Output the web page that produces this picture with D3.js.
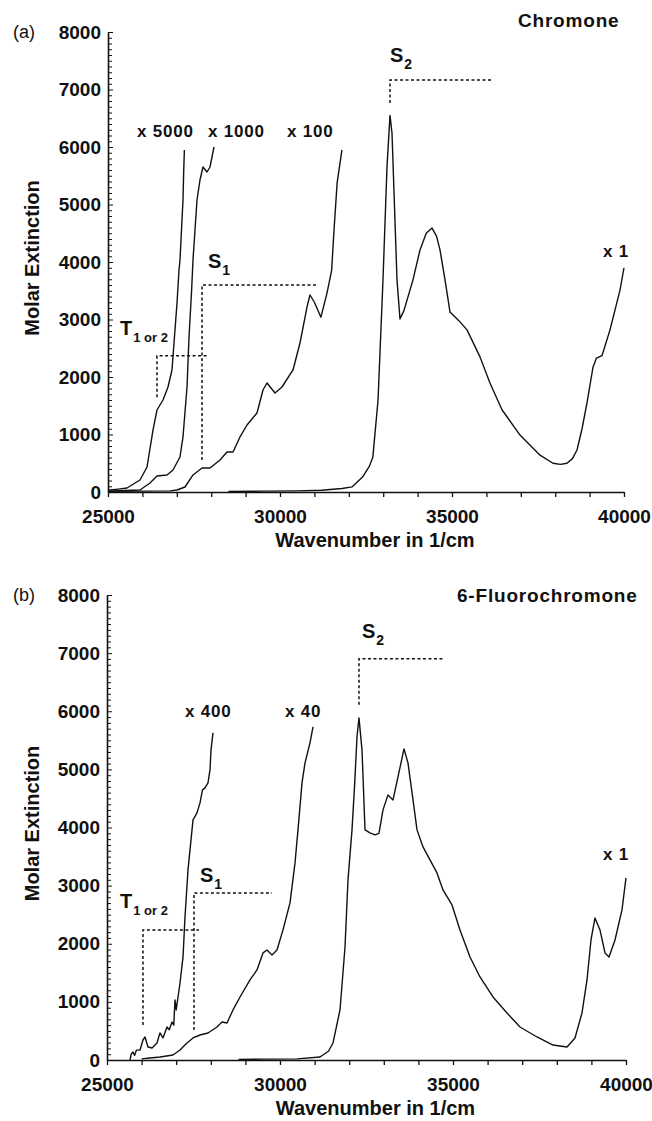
<!DOCTYPE html>
<html>
<head>
<meta charset="utf-8">
<script src="https://cdn.jsdelivr.net/npm/d3@7"></script>
<style>
body { margin: 0; background: #fff; }
svg text { font-family: "Liberation Sans", Arial, sans-serif; fill: #111; }
</style>
</head>
<body>
<div id="chart"></div>
<script>

// ---- data: [wavenumber (1/cm), molar extinction] ----

// (a) Chromone
const chromoneX1 = [[28500,10],[29500,15],[30500,20],[31200,30],[31800,60],[32100,90],[32400,260],[32600,450],
	[32700,610],[32850,1600],[32994,3690],[33110,5650],[33198,6550],[33256,6240],[33401,3690],[33488,3010],
	[33600,3150],[33866,3690],[34070,4210],[34250,4500],[34419,4590],[34550,4450],[34651,4210],[34797,3690],
	[34942,3130],[35200,2980],[35436,2820],[35814,2350],[36100,1900],[36453,1430],[36977,990],[37558,640],
	[37936,500],[38150,480],[38343,500],[38500,580],[38634,730],[38780,1100],[38924,1550],[39099,2170],
	[39200,2330],[39360,2370],[39593,2820],[39884,3510],[40000,3900]];
const chromoneX100 = [[25000,10],[26000,15],[26800,20],[27006,35],[27238,87],[27471,296],[27733,417],[27965,417],
	[28256,557],[28459,696],[28634,696],[28837,957],[29041,1165],[29331,1374],[29506,1774],[29622,1896],
	[29855,1722],[30058,1826],[30378,2122],[30581,2591],[30785,3217],[30872,3426],[31000,3300],[31190,3040],
	[31366,3460],[31500,3850],[31570,4550],[31660,5370],[31800,5950]];
const chromoneX1000 = [[25000,15],[25500,25],[25930,35],[26221,157],[26424,278],[26715,296],[26890,383],
	[27093,609],[27180,957],[27297,1826],[27355,2696],[27430,3500],[27471,4035],[27587,5078],[27674,5426],
	[27761,5652],[27878,5565],[27965,5652],[28081,6000]];
const chromoneX5000 = [[25000,30],[25300,50],[25552,70],[25930,209],[26134,435],[26308,1078],[26424,1426],
	[26599,1600],[26744,1826],[26860,2122],[26919,2591],[27006,3287],[27064,3861],[27093,4035],[27180,5078],
	[27200,5565],[27220,5948]];

// (b) 6-Fluorochromone
const fluoroX1 = [[28800,10],[29500,15],[30500,20],[31156,52],[31400,150],[31532,293],[31734,861],[31879,1945],
	[31965,3098],[32081,3959],[32160,4768],[32225,5559],[32283,5886],[32370,5336],[32457,3959],[32601,3907],
	[32746,3873],[32860,3900],[32977,4303],[33121,4561],[33266,4475],[33410,4871],[33584,5353],[33699,5112],
	[33844,4475],[33960,3959],[34133,3666],[34335,3442],[34537,3219],[34711,2926],[34971,2668],[35202,2238],
	[35491,1773],[35780,1429],[36156,1084],[36561,809],[36936,568],[37428,396],[37890,258],[38295,224],
	[38526,379],[38728,809],[38873,1377],[38988,2065],[39104,2444],[39248,2238],[39393,1842],[39509,1773],
	[39682,2065],[39884,2582],[40000,3133]];
const fluoroX40 = [[26000,20],[26243,34],[26532,52],[26908,86],[27110,172],[27312,293],[27486,379],[27688,430],
	[27919,465],[28179,568],[28324,654],[28468,637],[28642,861],[28844,1084],[29133,1377],[29335,1549],
	[29509,1842],[29624,1893],[29769,1807],[29913,1893],[30087,2238],[30289,2702],[30434,3391],[30520,3959],
	[30636,4768],[30723,5112],[30867,5456],[30954,5731]];
const fluoroX400 = [[25665,0],[25700,100],[25751,138],[25800,80],[25850,170],[25954,172],[26040,344],[26098,396],
	[26185,224],[26301,206],[26445,293],[26530,465],[26618,379],[26734,568],[26800,520],[26879,654],[26930,600],
	[26965,1033],[27000,861],[27110,1325],[27197,1773],[27254,2461],[27341,3270],[27428,3787],[27457,3959],
	[27486,4131],[27601,4251],[27688,4423],[27760,4647],[27832,4682],[27919,4768],[27977,4991],[28006,5336],
	[28064,5628]];

// dashed state markers: vertical at w from v0 to v1, then horizontal to w1; label at (lw, lv)
const chromoneMarks = [
	{label: "T", sub: "1 or 2", w: 26424, v0: 1650, v1: 2370, w1: 27878, lw: 25349, lv: 2730},
	{label: "S", sub: "1", w: 27733, v0: 557, v1: 3600, w1: 31105, lw: 27907, lv: 3896},
	{label: "S", sub: "2", w: 33198, v0: 6765, v1: 7165, w1: 36192, lw: 33198, lv: 7478}
];
const fluoroMarks = [
	{label: "T", sub: "1 or 2", w: 26040, v0: 602, v1: 2238, w1: 27659, lw: 25376, lv: 2616},
	{label: "S", sub: "1", w: 27514, v0: 516, v1: 2874, w1: 29769, lw: 27688, lv: 3064},
	{label: "S", sub: "2", w: 32283, v0: 6110, v1: 6902, w1: 34711, lw: 32370, lv: 7263}
];

// scale factor labels [text, wavenumber, extinction]
const chromoneFactors = [["x 5000", 25843, 6174], ["x 1000", 27907, 6174], ["x 100", 30203, 6174], ["x 1", 39390, 4087]];
const fluoroFactors = [["x 400", 27254, 5904], ["x 40", 30145, 5904], ["x 1", 39335, 3442]];

const xTicks = d3.range(25000, 40001, 1000);
const xLabels = [25000, 30000, 35000, 40000];
const yTicks = d3.range(0, 8001, 100);
const yLabels = d3.range(0, 8001, 1000);

// ---- drawing ----
const svg = d3.select("#chart").append("svg")
	.attr("width", 652)
	.attr("height", 1121);

function drawPanel(p) {
	const x = d3.scaleLinear().domain([25000, 40000]).range([p.left, p.right]);
	const y = d3.scaleLinear().domain([0, 8000]).range([p.bottom, p.top]);
	const g = svg.append("g");

	// x axis
	const xAxis = d3.axisBottom(x)
		.tickValues(xTicks)
		.tickSizeInner(5)
		.tickSizeOuter(0)
		.tickPadding(13)
		.tickFormat(d => xLabels.includes(d) ? d : "");
	const gx = g.append("g")
		.attr("transform", "translate(0," + p.bottom + ")")
		.call(xAxis);
	gx.select(".domain").attr("stroke", "#111").attr("stroke-width", 1.6);
	gx.selectAll(".tick line").attr("stroke", "#111").attr("stroke-width", 1.3);
	gx.selectAll("text").attr("font-size", 19).attr("font-weight", "bold").attr("fill", "#111");

	// y axis: small inward ticks every 100, labels every 1000
	const yAxis = d3.axisLeft(y)
		.tickValues(yTicks)
		.tickSizeInner(-4)
		.tickSizeOuter(0)
		.tickPadding(7)
		.tickFormat(d => yLabels.includes(d) ? d : "");
	const gy = g.append("g")
		.attr("transform", "translate(" + p.left + ",0)")
		.call(yAxis);
	gy.select(".domain").attr("stroke", "#111").attr("stroke-width", 1.6);
	gy.selectAll(".tick line").attr("stroke", "#111").attr("stroke-width", 1)
		.attr("x2", d => yLabels.includes(d) ? 5 : 4);
	gy.selectAll("text").attr("font-size", 19).attr("font-weight", "bold").attr("fill", "#111");

	// axis titles
	g.append("text")
		.attr("x", (p.left + p.right) / 2 + 9)
		.attr("y", p.bottom + 55)
		.attr("text-anchor", "middle")
		.attr("font-size", 20).attr("font-weight", "bold")
		.text("Wavenumber in 1/cm");
	g.append("text")
		.attr("transform", "translate(39," + ((p.top + p.bottom) / 2 - 4) + ") rotate(-90)")
		.attr("text-anchor", "middle")
		.attr("font-size", 20).attr("font-weight", "bold")
		.text("Molar Extinction");

	// panel letter and compound name
	g.append("text")
		.attr("x", 13).attr("y", p.top + 6)
		.attr("font-size", 18)
		.text(p.letter);
	g.append("text")
		.attr("x", x(p.nameW)).attr("y", y(p.nameV))
		.attr("font-size", 19).attr("font-weight", "bold")
		.attr("letter-spacing", 0.8)
		.text(p.name);

	// dashed markers
	const marks = g.append("g")
		.attr("fill", "none")
		.attr("stroke", "#111")
		.attr("stroke-width", 1.5)
		.attr("stroke-dasharray", "3,2.5");
	p.marks.forEach(m => {
		marks.append("path")
			.attr("d", "M" + x(m.w) + "," + y(m.v0) + "V" + y(m.v1) + "H" + x(m.w1));
		const t = g.append("text")
			.attr("x", x(m.lw)).attr("y", y(m.lv))
			.attr("font-size", 20).attr("font-weight", "bold");
		t.append("tspan").text(m.label);
		t.append("tspan")
			.attr("font-size", m.sub.length > 1 ? 13 : 14)
			.attr("dx", 1)
			.attr("dy", 7)
			.text(m.sub);
	});

	// spectra
	const line = d3.line()
		.x(d => x(d[0]))
		.y(d => y(d[1]));
	p.curves.forEach(c => {
		g.append("path")
			.datum(c)
			.attr("fill", "none")
			.attr("stroke", "#111")
			.attr("stroke-width", 1.4)
			.attr("stroke-linejoin", "round")
			.attr("d", line);
	});

	// scale factor labels
	p.factors.forEach(f => {
		g.append("text")
			.attr("x", x(f[1])).attr("y", y(f[2]))
			.attr("font-size", 17).attr("font-weight", "bold")
			.attr("letter-spacing", 0.8)
			.text(f[0]);
	});
}

drawPanel({
	left: 108, right: 624, top: 32, bottom: 492,
	letter: "(a)", name: "Chromone", nameW: 36919, nameV: 8087,
	curves: [chromoneX1, chromoneX100, chromoneX1000, chromoneX5000],
	marks: chromoneMarks,
	factors: chromoneFactors
});

drawPanel({
	left: 107, right: 626, top: 595, bottom: 1060,
	letter: "(b)", name: "6-Fluorochromone", nameW: 35116, nameV: 7883,
	curves: [fluoroX1, fluoroX40, fluoroX400],
	marks: fluoroMarks,
	factors: fluoroFactors
});
</script>
</body>
</html>
